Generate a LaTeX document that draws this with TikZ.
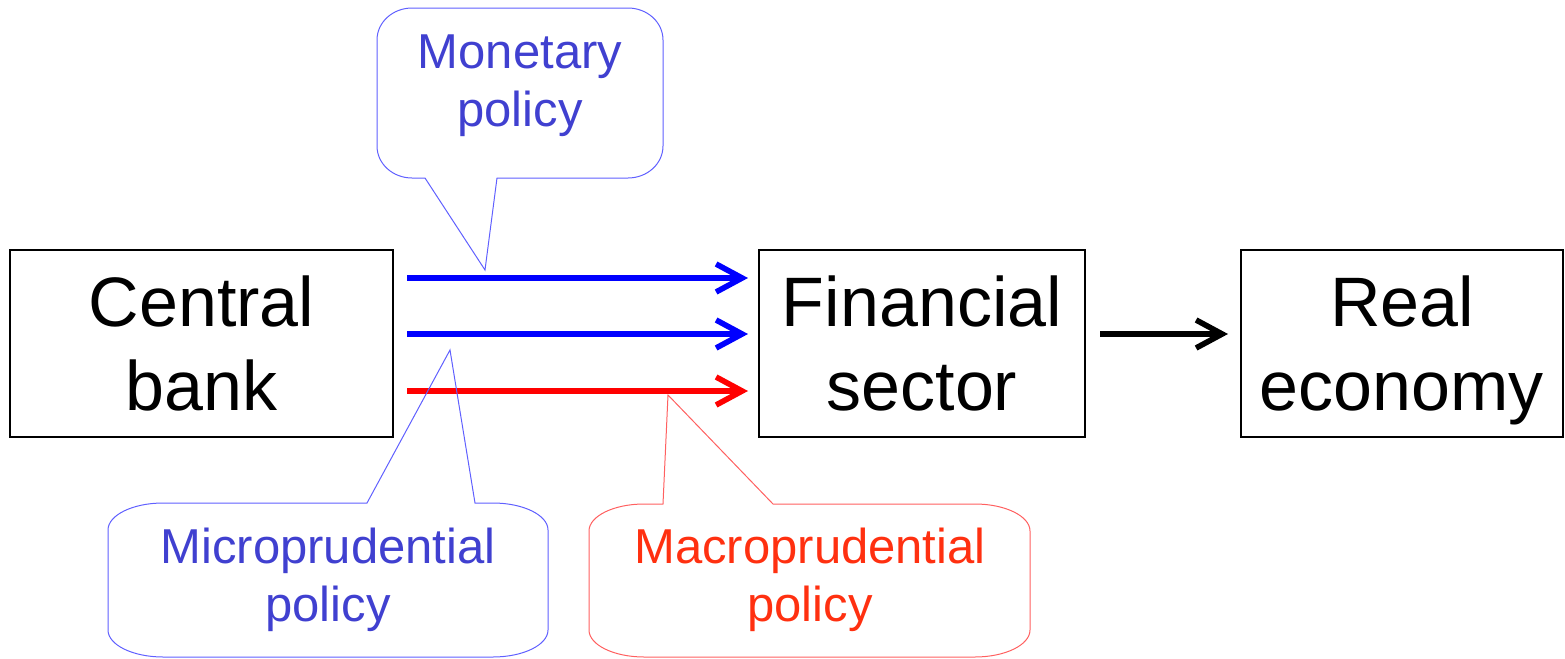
\documentclass[tikz,border=0pt]{standalone}
\usepackage{fontspec}
\setmainfont{Liberation Sans}
\usetikzlibrary{arrows.meta}
\definecolor{polblue}{RGB}{0,0,255}
\definecolor{polred}{RGB}{255,0,0}
\definecolor{bluetext}{RGB}{64,64,208}
\definecolor{redtext}{RGB}{255,48,16}
\definecolor{blueedge}{RGB}{96,96,255}
\definecolor{rededge}{RGB}{255,96,96}
\tikzset{
  sectorbox/.style={draw=black, line width=1pt, inner sep=0pt, align=center,
    text depth=0pt, font=\fontsize{35}{42}\selectfont},
  flow/.style={line width=2.8pt, -{Straight Barb[length=13pt,width=14pt]}},
  callout/.style={line width=0.5pt},
  calltext/.style={align=center, inner sep=0pt, font=\fontsize{24.5}{29}\selectfont}
}
\begin{document}
\begin{tikzpicture}[x=0.5pt, y=-0.5pt]
  \useasboundingbox (0,0) rectangle (1565,659);

  % sector boxes
  \node[sectorbox, minimum width=383*0.5pt, minimum height=187*0.5pt] (cb) at (201.5,343.5) {Central\\bank};
  \node[sectorbox, minimum width=326*0.5pt, minimum height=187*0.5pt] (fs) at (922,343.5) {Financial\\sector};
  \node[sectorbox, minimum width=322*0.5pt, minimum height=187*0.5pt] (re) at (1402,343.5) {Real\\economy};

  % policy channels from the central bank to the financial sector
  \coordinate (m0) at (407,278); \coordinate (m1) at (748,278);
  \coordinate (u0) at (407,334); \coordinate (u1) at (748,334);
  \coordinate (a0) at (407,391); \coordinate (a1) at (748,391);
  \draw[flow, polblue] (m0) -- (m1);
  \draw[flow, polblue] (u0) -- (u1);
  \draw[flow, polred] (a0) -- (a1);

  % transmission to the real economy
  \coordinate (r0) at (1100,334); \coordinate (r1) at (1228,334);
  \draw[flow, black] (r0) -- (r1);

  % monetary policy callout
  \draw[callout, blueedge]
    (425,178) -- (485,270) -- (497,178) -- (628,178)
    .. controls (647,178) and (663,164) .. (663,146) -- (663,40)
    .. controls (663,22) and (647,8) .. (628,8) -- (412,8)
    .. controls (393,8) and (377,22) .. (377,40) -- (377,146)
    .. controls (377,164) and (393,178) .. (412,178) -- cycle;
  \node[calltext, text=bluetext] (mon) at (520,86) {Monetary\\policy};

  % microprudential policy callout
  \draw[callout, blueedge]
    (367,503) -- (450,350) -- (475,503) -- (493,503)
    .. controls (523,503) and (548,515) .. (548,530) -- (548,630)
    .. controls (548,645) and (523,657) .. (493,657) -- (163,657)
    .. controls (133,657) and (108,645) .. (108,630) -- (108,530)
    .. controls (108,515) and (133,503) .. (163,503) -- cycle;
  \node[calltext, text=bluetext] (mic) at (328,580) {Microprudential\\policy};

  % macroprudential policy callout
  \draw[callout, rededge]
    (663,504) -- (668,395) -- (773,504) -- (975,504)
    .. controls (1005,504) and (1030,516) .. (1030,531) -- (1030,630)
    .. controls (1030,645) and (1005,657) .. (975,657) -- (644,657)
    .. controls (614,657) and (589,645) .. (589,630) -- (589,531)
    .. controls (589,516) and (614,504) .. (644,504) -- cycle;
  \node[calltext, text=redtext] (mac) at (810,580) {Macroprudential\\policy};
\end{tikzpicture}
\end{document}
